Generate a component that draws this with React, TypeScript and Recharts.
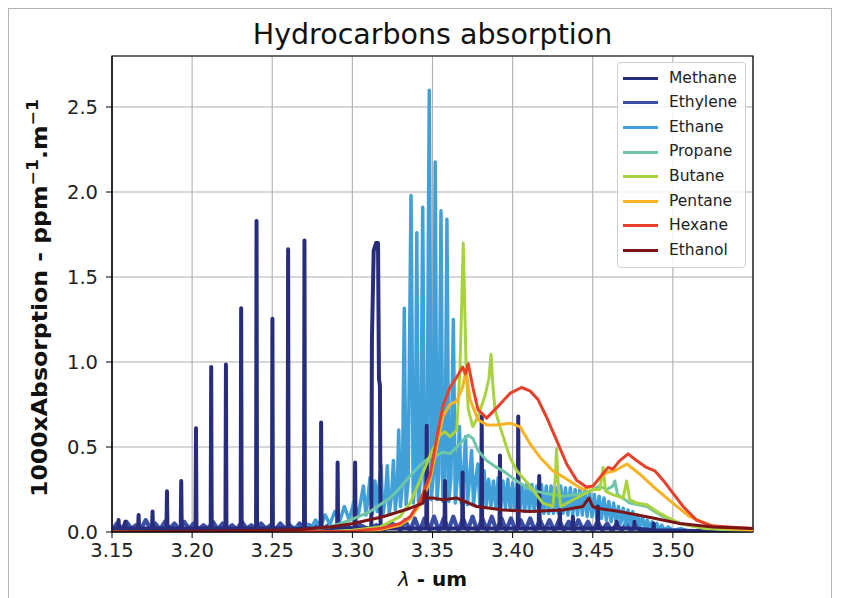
import React from 'react';
import { LineChart, Line, XAxis, YAxis, CartesianGrid, ReferenceArea } from 'recharts';

// Hydrocarbons absorption spectra
const FONT = '"DejaVu Sans", "Liberation Sans", sans-serif';

const X_TICKS = [3.15, 3.2, 3.25, 3.3, 3.35, 3.4, 3.45, 3.5];
const Y_TICKS = [0, 0.5, 1, 1.5, 2, 2.5];

const SERIES_NAMES = ['Methane', 'Ethylene', 'Ethane', 'Propane', 'Butane', 'Pentane', 'Hexane', 'Ethanol'];
const SERIES_COLORS = ['#272c7d', '#3a4ea6', '#42a0d9', '#6fc6a6', '#a8d33f', '#f9b224', '#e8402a', '#7a1517'];

type Pt = [number, number];

// lambda (um), 1000 x absorption
const methane: Pt[] = [
  [3.150, 0.02], [3.1538, 0.02], [3.1541, 0.07], [3.1544, 0.02],
  [3.1580, 0.02], [3.1583, 0.06], [3.1586, 0.02],
  [3.1663, 0.02], [3.1666, 0.10], [3.1669, 0.02],
  [3.1750, 0.02], [3.1753, 0.12], [3.1756, 0.02],
  [3.1840, 0.02], [3.1843, 0.24], [3.1846, 0.02],
  [3.1929, 0.02], [3.1932, 0.30], [3.1935, 0.02],
  [3.2021, 0.02], [3.2024, 0.61], [3.2027, 0.02],
  [3.2116, 0.02], [3.2119, 0.97], [3.2122, 0.02],
  [3.2208, 0.02], [3.2211, 0.985], [3.2214, 0.02],
  [3.2303, 0.02], [3.2306, 1.316], [3.2309, 0.02],
  [3.2399, 0.02], [3.2402, 1.83], [3.2405, 0.02],
  [3.2498, 0.02], [3.2501, 1.254], [3.2504, 0.02],
  [3.2596, 0.02], [3.2599, 1.663], [3.2602, 0.02],
  [3.2698, 0.02], [3.2701, 1.714], [3.2704, 0.02],
  [3.2802, 0.02], [3.2805, 0.644], [3.2808, 0.02],
  [3.2905, 0.02], [3.2908, 0.409], [3.2911, 0.02],
  [3.3014, 0.02], [3.3017, 0.409], [3.3020, 0.02],
  [3.3118, 0.02], [3.3122, 1.13], [3.3133, 1.655], [3.3148, 1.70], [3.3160, 1.70],
  [3.3166, 0.90], [3.3172, 0.86], [3.3176, 0.02],
  [3.3461, 0.02], [3.3464, 0.625], [3.3467, 0.02],
  [3.3575, 0.02], [3.3578, 0.30], [3.3581, 0.02],
  [3.3685, 0.02], [3.3688, 0.35], [3.3691, 0.02],
  [3.3804, 0.02], [3.3807, 0.68], [3.3810, 0.02],
  [3.3918, 0.02], [3.3921, 0.45], [3.3924, 0.02],
  [3.4032, 0.02], [3.4035, 0.68], [3.4038, 0.02],
  [3.4163, 0.02], [3.4166, 0.33], [3.4169, 0.02],
  [3.4292, 0.02], [3.4295, 0.13], [3.4298, 0.02],
  [3.4373, 0.02], [3.4376, 0.09], [3.4379, 0.02],
  [3.4529, 0.02], [3.4532, 0.15], [3.4535, 0.02],
  [3.4647, 0.02], [3.4650, 0.06], [3.4653, 0.02],
  [3.4757, 0.02], [3.4760, 0.06], [3.4763, 0.02],
  [3.4877, 0.01], [3.4880, 0.05], [3.4883, 0.01],
  [3.55, 0.0],
];

const ethylene: Pt[] = [
  [3.150, 0.01], [3.153, 0.05], [3.156, 0.02], [3.159, 0.06], [3.162, 0.02], [3.165, 0.04],
  [3.168, 0.015], [3.171, 0.07], [3.174, 0.02], [3.177, 0.05], [3.180, 0.015], [3.183, 0.06],
  [3.186, 0.02], [3.189, 0.05], [3.192, 0.015], [3.195, 0.06], [3.198, 0.02], [3.201, 0.05],
  [3.204, 0.015], [3.207, 0.04], [3.210, 0.02], [3.213, 0.06], [3.216, 0.015], [3.219, 0.05],
  [3.222, 0.02], [3.225, 0.04], [3.228, 0.015], [3.231, 0.06], [3.234, 0.02], [3.237, 0.04],
  [3.240, 0.015], [3.243, 0.05], [3.246, 0.02], [3.249, 0.04], [3.252, 0.015], [3.255, 0.05],
  [3.258, 0.02], [3.261, 0.04], [3.264, 0.015], [3.267, 0.05], [3.270, 0.02], [3.273, 0.04],
  [3.276, 0.015], [3.279, 0.05], [3.282, 0.02], [3.285, 0.04], [3.288, 0.015], [3.291, 0.04],
  [3.294, 0.02], [3.297, 0.04], [3.300, 0.015], [3.305, 0.04], [3.310, 0.015], [3.315, 0.04],
  [3.320, 0.015], [3.325, 0.05], [3.330, 0.01],
  [3.333, 0.07], [3.336, 0.005], [3.339, 0.08], [3.342, 0.005], [3.345, 0.08], [3.348, 0.01],
  [3.351, 0.09], [3.354, 0.005], [3.357, 0.08], [3.360, 0.01], [3.363, 0.09], [3.366, 0.005],
  [3.369, 0.08], [3.372, 0.01], [3.375, 0.09], [3.378, 0.005], [3.381, 0.08], [3.384, 0.01],
  [3.387, 0.09], [3.390, 0.005], [3.393, 0.08], [3.396, 0.01], [3.399, 0.08], [3.402, 0.005],
  [3.405, 0.07], [3.408, 0.01], [3.411, 0.08], [3.414, 0.005], [3.417, 0.07], [3.420, 0.01],
  [3.423, 0.07], [3.426, 0.005], [3.429, 0.07], [3.432, 0.01], [3.435, 0.06], [3.438, 0.005],
  [3.441, 0.07], [3.444, 0.01], [3.447, 0.06], [3.450, 0.005], [3.453, 0.06], [3.456, 0.01],
  [3.459, 0.05], [3.462, 0.005], [3.465, 0.05], [3.468, 0.01], [3.471, 0.05], [3.474, 0.005],
  [3.477, 0.04], [3.480, 0.005], [3.484, 0.03], [3.488, 0.005], [3.492, 0.02], [3.500, 0.005],
  [3.550, 0.003],
];

const ethane: Pt[] = [
  [3.255, 0.0], [3.259, 0.015], [3.262, 0.005], [3.265, 0.03], [3.268, 0.01], [3.271, 0.05],
  [3.274, 0.02], [3.277, 0.07], [3.280, 0.03], [3.283, 0.10], [3.286, 0.045], [3.289, 0.12],
  [3.292, 0.06], [3.295, 0.15], [3.298, 0.07], [3.301, 0.18], [3.3035, 0.09], [3.3069, 0.27],
  [3.3085, 0.10], [3.310, 0.22], [3.3110, 0.32], [3.3125, 0.11], [3.3141, 0.30], [3.3155, 0.12],
  [3.3165, 0.26], [3.3179, 0.39], [3.3190, 0.10], [3.3205, 0.19], [3.3218, 0.39], [3.3230, 0.11],
  [3.3245, 0.22], [3.3256, 0.42], [3.3268, 0.13], [3.3280, 0.25], [3.3289, 0.60], [3.3300, 0.15],
  [3.3312, 0.28], [3.3324, 1.316], [3.3335, 0.16], [3.3348, 0.30], [3.3366, 1.98], [3.3380, 0.17],
  [3.3392, 0.31], [3.3402, 1.76], [3.3412, 0.18], [3.3426, 0.32], [3.3439, 1.91], [3.3450, 0.18],
  [3.3465, 0.33], [3.3480, 2.598], [3.3492, 0.19], [3.3505, 0.33], [3.3517, 2.177], [3.3528, 0.19],
  [3.3540, 0.34], [3.3553, 1.89], [3.3565, 0.18], [3.3578, 0.33], [3.3590, 1.84], [3.3602, 0.18],
  [3.3615, 0.32], [3.3630, 1.25], [3.3642, 0.17], [3.3655, 0.32], [3.3668, 0.62], [3.3680, 0.17],
  [3.3693, 0.32], [3.3706, 0.56], [3.3718, 0.16], [3.3731, 0.31], [3.3744, 0.48], [3.3756, 0.16],
  [3.3770, 0.31], [3.3783, 0.40], [3.3796, 0.15], [3.381, 0.30], [3.3822, 0.36], [3.3835, 0.15],
  [3.385, 0.31], [3.3865, 0.15], [3.388, 0.30], [3.3895, 0.14], [3.391, 0.32], [3.3925, 0.15],
  [3.394, 0.30], [3.3955, 0.14], [3.397, 0.31], [3.3985, 0.13], [3.400, 0.29], [3.4015, 0.13],
  [3.403, 0.30], [3.4045, 0.13], [3.406, 0.28], [3.4075, 0.12], [3.409, 0.29], [3.4105, 0.12],
  [3.412, 0.28], [3.4135, 0.12], [3.415, 0.27], [3.4165, 0.12], [3.418, 0.28], [3.4195, 0.11],
  [3.421, 0.27], [3.4225, 0.11], [3.424, 0.27], [3.4255, 0.11], [3.427, 0.26], [3.4285, 0.11],
  [3.430, 0.27], [3.4315, 0.11], [3.433, 0.26], [3.4345, 0.10], [3.436, 0.26], [3.4375, 0.10],
  [3.439, 0.25], [3.4405, 0.10], [3.442, 0.25], [3.4435, 0.10], [3.445, 0.25], [3.4465, 0.09],
  [3.448, 0.24], [3.4495, 0.09], [3.451, 0.22], [3.4525, 0.08], [3.454, 0.21], [3.4555, 0.08],
  [3.457, 0.20], [3.4585, 0.07], [3.460, 0.18], [3.4615, 0.06], [3.463, 0.17], [3.4645, 0.06],
  [3.466, 0.15], [3.4675, 0.05], [3.469, 0.14], [3.4705, 0.04], [3.472, 0.13], [3.4735, 0.04],
  [3.475, 0.12], [3.4765, 0.03], [3.478, 0.10], [3.4795, 0.03], [3.481, 0.09], [3.4825, 0.02],
  [3.484, 0.07], [3.4855, 0.02], [3.487, 0.06], [3.4885, 0.01], [3.490, 0.05], [3.4915, 0.01],
  [3.493, 0.04], [3.495, 0.01], [3.497, 0.03], [3.500, 0.01], [3.505, 0.02], [3.510, 0.005],
  [3.520, 0.005],
];

const propane: Pt[] = [
  [3.150, 0.0], [3.250, 0.0], [3.270, 0.01], [3.286, 0.03], [3.2986, 0.07], [3.311, 0.12],
  [3.3235, 0.20], [3.3297, 0.26], [3.336, 0.33], [3.342, 0.39], [3.3484, 0.44], [3.3526, 0.45],
  [3.3565, 0.47], [3.3609, 0.46], [3.3651, 0.50], [3.3692, 0.54], [3.3723, 0.57], [3.3752, 0.55],
  [3.3784, 0.48], [3.3838, 0.42], [3.3900, 0.38], [3.394, 0.36], [3.4026, 0.30], [3.4108, 0.25],
  [3.4189, 0.23], [3.4314, 0.21], [3.4399, 0.22], [3.4482, 0.24], [3.4544, 0.27], [3.4588, 0.25],
  [3.4625, 0.27], [3.4638, 0.30], [3.4655, 0.22], [3.4731, 0.17], [3.4837, 0.15], [3.4939, 0.09],
  [3.5043, 0.05], [3.5147, 0.03], [3.530, 0.015], [3.550, 0.01],
];

const butane: Pt[] = [
  [3.150, 0.0], [3.280, 0.0], [3.300, 0.01], [3.3173, 0.03], [3.3297, 0.09], [3.336, 0.17],
  [3.342, 0.30], [3.3484, 0.45], [3.3547, 0.57], [3.3578, 0.59], [3.3609, 0.56], [3.3651, 0.60],
  [3.3671, 0.95], [3.3692, 1.70], [3.3709, 1.0], [3.3723, 0.72], [3.3752, 0.62], [3.3784, 0.68],
  [3.3827, 0.80], [3.3852, 0.90], [3.3865, 1.045], [3.3878, 0.85], [3.389, 0.72], [3.3921, 0.62],
  [3.3983, 0.44], [3.4026, 0.36], [3.4108, 0.27], [3.4189, 0.17], [3.4251, 0.15], [3.4265, 0.30],
  [3.4274, 0.49], [3.4283, 0.30], [3.4300, 0.15], [3.4399, 0.20], [3.4501, 0.25], [3.4544, 0.25],
  [3.4565, 0.38], [3.4580, 0.24], [3.4625, 0.22], [3.4690, 0.20], [3.4711, 0.30], [3.4731, 0.19],
  [3.4773, 0.17], [3.4837, 0.16], [3.4918, 0.11], [3.5043, 0.05], [3.520, 0.02], [3.550, 0.01],
];

const pentane: Pt[] = [
  [3.150, 0.0], [3.300, 0.0], [3.3173, 0.015], [3.3297, 0.04], [3.336, 0.08], [3.3422, 0.16],
  [3.3484, 0.30], [3.3526, 0.50], [3.3565, 0.68], [3.3609, 0.75], [3.3651, 0.77], [3.3688, 0.85],
  [3.3709, 0.95], [3.3734, 0.78], [3.3784, 0.66], [3.3838, 0.63], [3.3902, 0.63], [3.3983, 0.64],
  [3.4045, 0.62], [3.4108, 0.52], [3.417, 0.44], [3.4251, 0.36], [3.4339, 0.31], [3.4438, 0.25],
  [3.4501, 0.27], [3.4544, 0.32], [3.4588, 0.35], [3.4638, 0.36], [3.4713, 0.40], [3.4794, 0.34],
  [3.4887, 0.26], [3.4999, 0.17], [3.5106, 0.09], [3.523, 0.04], [3.535, 0.02], [3.550, 0.01],
];

const hexane: Pt[] = [
  [3.150, 0.0], [3.300, 0.005], [3.3173, 0.02], [3.3297, 0.05], [3.336, 0.09], [3.3422, 0.18],
  [3.3484, 0.33], [3.3526, 0.55], [3.3565, 0.74], [3.3609, 0.85], [3.3651, 0.91], [3.3688, 0.97],
  [3.3705, 0.93], [3.3723, 0.99], [3.3752, 0.85], [3.3784, 0.72], [3.3838, 0.67], [3.3900, 0.73],
  [3.3983, 0.815], [3.4056, 0.85], [3.4108, 0.83], [3.4158, 0.78], [3.4212, 0.675], [3.4274, 0.54],
  [3.4337, 0.40], [3.4399, 0.305], [3.4461, 0.265], [3.4501, 0.27], [3.4544, 0.32], [3.4596, 0.38],
  [3.4625, 0.37], [3.4669, 0.42], [3.4721, 0.46], [3.4773, 0.42], [3.4835, 0.38], [3.4887, 0.36],
  [3.4939, 0.305], [3.4999, 0.23], [3.5064, 0.15], [3.5147, 0.07], [3.5249, 0.035], [3.550, 0.02],
];

const ethanol: Pt[] = [
  [3.150, 0.0], [3.200, 0.005], [3.250, 0.01], [3.2674, 0.015], [3.2861, 0.03], [3.3004, 0.05],
  [3.3191, 0.09], [3.336, 0.14], [3.3441, 0.17], [3.3453, 0.24], [3.3464, 0.20], [3.3503, 0.20],
  [3.3565, 0.19], [3.3651, 0.20], [3.3776, 0.15], [3.394, 0.13], [3.4108, 0.12], [3.4314, 0.13],
  [3.4438, 0.15], [3.4476, 0.20], [3.4500, 0.15], [3.4526, 0.14], [3.4669, 0.12], [3.4837, 0.09],
  [3.5043, 0.05], [3.5249, 0.03], [3.550, 0.02],
];

const SERIES_DATA: Pt[][] = [methane, ethylene, ethane, propane, butane, pentane, hexane, ethanol];
// drawing order (indices into SERIES_*); legend keeps the original order
const DRAW_ORDER = [1, 2, 0, 3, 4, 5, 6, 7];
const SERIES_WIDTHS = [4, 4.2, 3.5, 3, 3, 3, 3, 3];

const toPoints = (pts: Pt[]) => pts.map(([x, y]) => ({ x, y }));

const tickStyle = { fontSize: 19.5, fill: '#222', fontFamily: FONT };

const ChartLegend = () => (
  <div
    style={{
      position: 'absolute',
      left: 617,
      top: 62,
      width: 129,
      height: 206,
      boxSizing: 'border-box',
      border: '1px solid #d0d0d0',
      borderRadius: 4,
      background: 'rgba(255,255,255,0.85)',
      fontFamily: FONT,
      fontSize: 15.5,
      color: '#222',
      paddingTop: 3,
    }}
  >
    {SERIES_NAMES.map((name, i) => (
      <div key={name} style={{ display: 'flex', alignItems: 'center', height: 24.6 }}>
        <span style={{ display: 'inline-block', width: 35, height: 3, marginLeft: 5, background: SERIES_COLORS[i] }} />
        <span style={{ marginLeft: 11, lineHeight: 1 }}>{name}</span>
      </div>
    ))}
  </div>
);

export default function App() {
  return (
    <div style={{ position: 'absolute', left: 0, top: 0, width: 841, height: 598, background: '#fff', overflow: 'hidden' }}>
      <div
        style={{
          position: 'absolute',
          left: 8,
          top: 8,
          width: 824,
          height: 640,
          boxSizing: 'border-box',
          border: '1.5px solid #b4b4b4',
        }}
      />
      <div style={{ position: 'absolute', left: 0, top: 0 }}>
        <LineChart width={841} height={598} margin={{ top: 56, right: 88, bottom: 36, left: 52 }}>
          <CartesianGrid stroke="#b0b0b0" strokeWidth={1.1} />
          <XAxis
            type="number"
            dataKey="x"
            domain={[3.15, 3.55]}
            ticks={X_TICKS}
            interval={0}
            allowDataOverflow
            height={30}
            tickSize={6}
            tickMargin={5}
            stroke="#000"
            tick={tickStyle}
            tickFormatter={(v: number) => v.toFixed(2)}
          />
          <YAxis
            type="number"
            domain={[0, 2.8]}
            ticks={Y_TICKS}
            interval={0}
            allowDataOverflow
            width={60}
            tickSize={6}
            tickMargin={8}
            stroke="#000"
            tick={tickStyle}
            tickFormatter={(v: number) => v.toFixed(1)}
          />
          {DRAW_ORDER.map((i) => (
            <Line
              key={SERIES_NAMES[i]}
              name={SERIES_NAMES[i]}
              data={toPoints(SERIES_DATA[i])}
              dataKey="y"
              type="linear"
              stroke={SERIES_COLORS[i]}
              strokeWidth={SERIES_WIDTHS[i]}
              strokeLinejoin="round"
              dot={false}
              activeDot={false}
              isAnimationActive={false}
            />
          ))}
          <ReferenceArea x1={3.15} x2={3.55} y1={0} y2={2.8} fill="none" stroke="#000" strokeWidth={1.2} ifOverflow="visible" />
        </LineChart>
      </div>
      <svg width={841} height={598} style={{ position: 'absolute', left: 0, top: 0, pointerEvents: 'none' }}>
        <text x={432.5} y={44} textAnchor="middle" fontFamily={FONT} fontSize={28.5} fill="#111">
          Hydrocarbons absorption
        </text>
        <text x={432.5} y={586} textAnchor="middle" fontFamily={FONT} fontSize={20} fill="#111">
          <tspan fontStyle="italic">λ</tspan>
          <tspan fontWeight="bold"> - um</tspan>
        </text>
        <text
          transform="translate(47,298) rotate(-90)"
          textAnchor="middle"
          fontFamily={FONT}
          fontSize={20.5}
          fontWeight="bold"
          fill="#111"
          textLength={398}
          lengthAdjust="spacingAndGlyphs"
        >
          1000xAbsorption - ppm<tspan dy={-9} fontSize={15}>−1</tspan>
          <tspan dy={9}>.m</tspan>
          <tspan dy={-9} fontSize={15}>−1</tspan>
        </text>
      </svg>
      <ChartLegend />
    </div>
  );
}
